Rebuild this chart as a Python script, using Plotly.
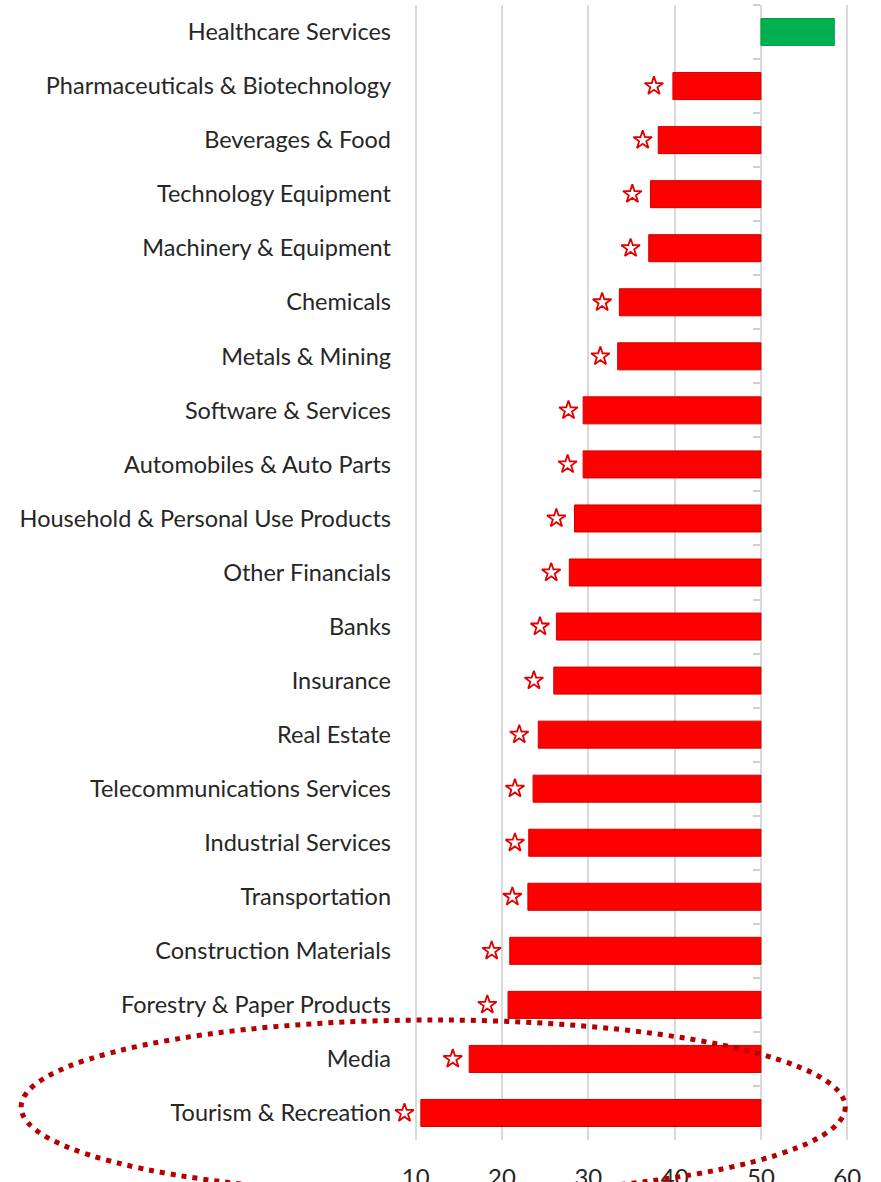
import plotly.graph_objects as go

categories = [
    "Healthcare Services", "Pharmaceuticals & Biotechnology", "Beverages & Food",
    "Technology Equipment", "Machinery & Equipment", "Chemicals", "Metals & Mining",
    "Software & Services", "Automobiles & Auto Parts", "Household & Personal Use Products",
    "Other Financials", "Banks", "Insurance", "Real Estate",
    "Telecommunications Services", "Industrial Services", "Transportation",
    "Construction Materials", "Forestry & Paper Products", "Media", "Tourism & Recreation",
]
values = [58.5, 39.8, 38.1, 37.2, 37.0, 33.6, 33.4, 29.4, 29.4, 28.4, 27.8,
          26.3, 26.0, 24.2, 23.6, 23.1, 23.0, 20.9, 20.7, 16.2, 10.6]
stars = [None, 37.6, 36.3, 35.1, 34.9, 31.6, 31.4, 27.7, 27.6, 26.3, 25.7,
         24.4, 23.7, 22.0, 21.5, 21.5, 21.2, 18.8, 18.3, 14.3, 8.7]
baseline = 50
x_ticks = [10, 20, 30, 40, 50, 60]
x_range = [8.3, 60.2]

bar_colors = ["#00B050" if v > baseline else "#FF0000" for v in values]
edge_colors = ["#00A048" if v > baseline else "#D00000" for v in values]

fig = go.Figure()
fig.add_trace(go.Bar(
    y=categories, x=[v - baseline for v in values], base=baseline,
    orientation="h", width=0.5,
    marker=dict(color=bar_colors, line=dict(color=edge_colors, width=1)),
    showlegend=False, hoverinfo="skip",
))
fig.add_trace(go.Scatter(
    y=categories, x=stars, mode="markers",
    marker=dict(symbol="star-open", size=14, color="#E00000", line=dict(width=1.8, color="#E00000")),
    cliponaxis=False, showlegend=False, hoverinfo="skip",
))
# invisible trace for the category tick marks on the 50 line
fig.add_trace(go.Scatter(
    y=categories, x=[baseline] * len(categories), mode="markers", yaxis="y2",
    marker=dict(size=1, color="rgba(0,0,0,0)"), showlegend=False, hoverinfo="skip",
))

W, H = 881, 1182
ppu = 8.62                       # pixels per x unit
L = 416 - (10 - x_range[0]) * ppu
pw = (x_range[1] - x_range[0]) * ppu
R = W - L - pw
T, B = 5, 42
ph = H - T - B

fig.update_layout(
    width=W, height=H,
    margin=dict(l=L, r=R, t=T, b=B, autoexpand=False),
    plot_bgcolor="white", paper_bgcolor="white",
    font=dict(family="Lato", color="#262626"),
    xaxis=dict(
        range=x_range, tickvals=x_ticks, showgrid=True, gridcolor="#D9D9D9", gridwidth=2,
        zeroline=False, showline=False, ticks="", tickfont=dict(size=24, color="#262626"),
        ticklabelstandoff=21, automargin=False,
    ),
    yaxis=dict(
        categoryorder="array", categoryarray=categories, range=[20.5, -0.5],
        showgrid=False, zeroline=False, showline=False, ticks="",
        tickfont=dict(size=23.5, color="#262626"), ticklabelstandoff=9, automargin=False,
    ),
    yaxis2=dict(
        overlaying="y", anchor="free", position=(760 - L) / pw, side="left",
        categoryorder="array", categoryarray=categories, range=[20.5, -0.5],
        showticklabels=False, ticks="outside", tickson="boundaries", ticklen=7,
        tickcolor="#D0D0D0", tickwidth=1.5, showgrid=False, zeroline=False, showline=False,
        automargin=False,
    ),
)

# dotted ellipse highlighting the bottom two categories
ex0, ex1, ey_top, ey_bot = 22, 845, 1020, 1194
fig.add_shape(
    type="circle", xref="paper", yref="paper",
    x0=(ex0 - L) / pw, x1=(ex1 - L) / pw,
    y0=(H - B - ey_bot) / ph, y1=(H - B - ey_top) / ph,
    line=dict(color="#B40000", width=5, dash="5px,6px"),
    layer="above",
)

fig.write_html("out.html")
